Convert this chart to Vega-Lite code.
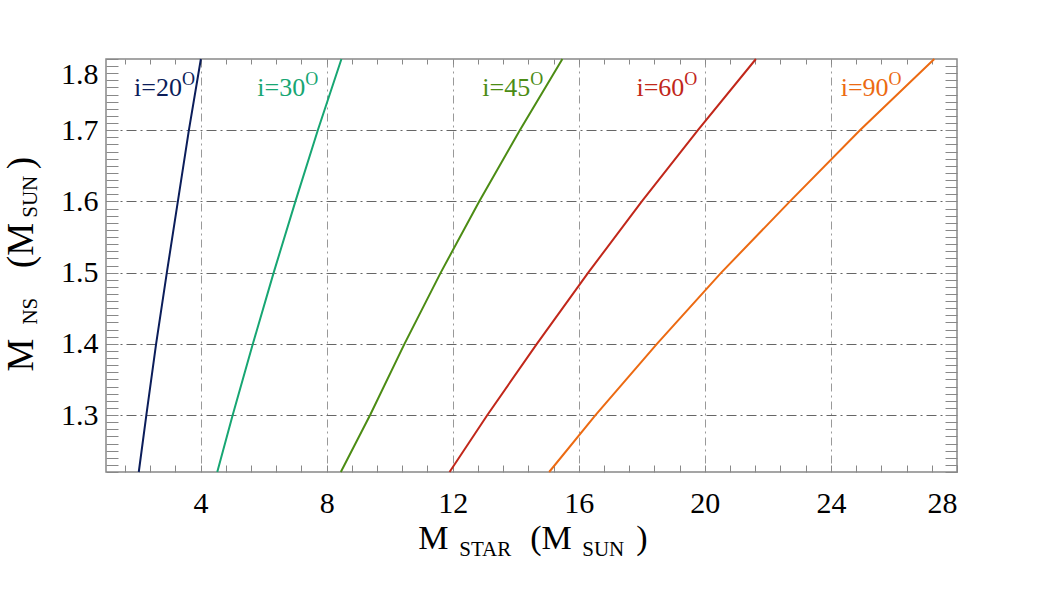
{
  "$schema": "https://vega.github.io/schema/vega-lite/v6.json",
  "width": 851,
  "height": 413,
  "autosize": "none",
  "padding": {"left": 106, "top": 59, "right": 106, "bottom": 119},
  "background": "white",
  "config": {
    "view": {"stroke": "#888888", "strokeWidth": 1.5},
    "font": "Liberation Serif",
    "axis": {"labelFont": "Liberation Serif", "titleFont": "Liberation Serif"},
    "text": {"font": "Liberation Serif"}
  },
  "datasets": {
    "curves": [
      {"inc": "i=20", "mstar": 2.04, "mns": 1.22},
      {"inc": "i=20", "mstar": 2.28, "mns": 1.3},
      {"inc": "i=20", "mstar": 2.59, "mns": 1.4},
      {"inc": "i=20", "mstar": 2.93, "mns": 1.5},
      {"inc": "i=20", "mstar": 3.28, "mns": 1.6},
      {"inc": "i=20", "mstar": 3.63, "mns": 1.7},
      {"inc": "i=20", "mstar": 4.01, "mns": 1.8},
      {"inc": "i=30", "mstar": 4.53, "mns": 1.22},
      {"inc": "i=30", "mstar": 5.02, "mns": 1.3},
      {"inc": "i=30", "mstar": 5.66, "mns": 1.4},
      {"inc": "i=30", "mstar": 6.32, "mns": 1.5},
      {"inc": "i=30", "mstar": 7.01, "mns": 1.6},
      {"inc": "i=30", "mstar": 7.72, "mns": 1.7},
      {"inc": "i=30", "mstar": 8.47, "mns": 1.8},
      {"inc": "i=45", "mstar": 8.45, "mns": 1.22},
      {"inc": "i=45", "mstar": 9.38, "mns": 1.3},
      {"inc": "i=45", "mstar": 10.47, "mns": 1.4},
      {"inc": "i=45", "mstar": 11.62, "mns": 1.5},
      {"inc": "i=45", "mstar": 12.84, "mns": 1.6},
      {"inc": "i=45", "mstar": 14.13, "mns": 1.7},
      {"inc": "i=45", "mstar": 15.48, "mns": 1.8},
      {"inc": "i=60", "mstar": 11.9, "mns": 1.22},
      {"inc": "i=60", "mstar": 13.1, "mns": 1.3},
      {"inc": "i=60", "mstar": 14.67, "mns": 1.4},
      {"inc": "i=60", "mstar": 16.3, "mns": 1.5},
      {"inc": "i=60", "mstar": 18.0, "mns": 1.6},
      {"inc": "i=60", "mstar": 19.78, "mns": 1.7},
      {"inc": "i=60", "mstar": 21.62, "mns": 1.8},
      {"inc": "i=90", "mstar": 15.06, "mns": 1.22},
      {"inc": "i=90", "mstar": 16.53, "mns": 1.3},
      {"inc": "i=90", "mstar": 18.48, "mns": 1.4},
      {"inc": "i=90", "mstar": 20.52, "mns": 1.5},
      {"inc": "i=90", "mstar": 22.7, "mns": 1.6},
      {"inc": "i=90", "mstar": 24.92, "mns": 1.7},
      {"inc": "i=90", "mstar": 27.28, "mns": 1.8}
    ],
    "labels": [
      {"inc": "i=20", "lx": 3.41, "ly": 1.748, "sy": 1.7635},
      {"inc": "i=30", "lx": 7.32, "ly": 1.748, "sy": 1.7635},
      {"inc": "i=45", "lx": 14.46, "ly": 1.748, "sy": 1.7635},
      {"inc": "i=60", "lx": 19.35, "ly": 1.748, "sy": 1.7635},
      {"inc": "i=90", "lx": 25.83, "ly": 1.748, "sy": 1.7635}
    ],
    "xtitleBig": [
      {"t": "M", "x": 10.905, "y": 1.1114},
      {"t": "(M", "x": 14.46, "y": 1.1114},
      {"t": ")", "x": 17.825, "y": 1.1114}
    ],
    "xtitleSmall": [
      {"t": "STAR", "x": 12.206, "y": 1.1016},
      {"t": "SUN", "x": 16.11, "y": 1.1016}
    ],
    "ytitleBig": [
      {"t": "M", "x": -1.317, "y": 1.361},
      {"t": "(M", "x": -1.317, "y": 1.5065},
      {"t": ")", "x": -1.317, "y": 1.645}
    ],
    "ytitleSmall": [
      {"t": "NS", "x": -1.19, "y": 1.427},
      {"t": "SUN", "x": -1.19, "y": 1.577}
    ]
  },
  "layer": [
    {
      "data": {"name": "curves"},
      "mark": {"type": "line", "strokeWidth": 2},
      "encoding": {
        "x": {
          "field": "mstar", "type": "quantitative",
          "scale": {"domain": [1, 28], "nice": false, "zero": false},
          "axis": {
            "orient": "bottom", "title": null, "domain": false,
            "values": [1.6,2.4,3.2,4,4.8,5.6,6.4,7.2,8,8.8,9.6,10.4,11.2,12,12.8,13.6,14.4,15.2,16,16.8,17.6,18.4,19.2,20,20.8,21.6,22.4,23.2,24,24.8,25.6,26.4,27.2,28],
            "tickSize": -7, "tickColor": "#888888", "tickWidth": 1,
            "labelExpr": "datum.value % 4 == 0 ? '' + datum.value : ''",
            "labelFontSize": 30, "labelColor": "black", "labelPadding": 23, "labelOverlap": false, "labelFont": "Liberation Serif",
            "grid": true, "gridColor": "#999999", "gridDash": [8, 4, 2, 4], "gridWidth": 1,
            "gridOpacity": {"condition": {"test": "datum.value % 4 == 0 && datum.value < 28", "value": 1}, "value": 0}
          }
        },
        "y": {
          "field": "mns", "type": "quantitative",
          "scale": {"domain": [1.22, 1.8], "nice": false, "zero": false},
          "axis": {
            "orient": "left", "title": null, "domain": false,
            "values": [1.22,1.23,1.24,1.25,1.26,1.27,1.28,1.29,1.3,1.31,1.32,1.33,1.34,1.35,1.36,1.37,1.38,1.39,1.4,1.41,1.42,1.43,1.44,1.45,1.46,1.47,1.48,1.49,1.5,1.51,1.52,1.53,1.54,1.55,1.56,1.57,1.58,1.59,1.6,1.61,1.62,1.63,1.64,1.65,1.66,1.67,1.68,1.69,1.7,1.71,1.72,1.73,1.74,1.75,1.76,1.77,1.78,1.79,1.8],
            "tickSize": -12, "tickColor": "#888888", "tickWidth": 1,
            "labelExpr": "abs(datum.value * 10 - round(datum.value * 10)) < 0.001 ? format(datum.value, '.1f') : ''",
            "labelFontSize": 30, "labelColor": "black", "labelPadding": 20, "labelOverlap": false, "labelFlush": true, "labelFont": "Liberation Serif",
            "grid": true, "gridColor": "#666666", "gridDash": [10, 4, 2, 4], "gridWidth": 1,
            "gridOpacity": {"condition": {"test": "abs(datum.value * 10 - round(datum.value * 10)) < 0.001 && datum.value < 1.79", "value": 1}, "value": 0}
          }
        },
        "color": {
          "field": "inc", "type": "nominal",
          "scale": {"domain": ["i=20", "i=30", "i=45", "i=60", "i=90"], "range": ["#0b1d5a", "#17a673", "#4c8c14", "#c1271a", "#ec6a12"]},
          "legend": null
        }
      }
    },
    {
      "data": {"name": "labels"},
      "mark": {"type": "text", "align": "right", "baseline": "alphabetic", "fontSize": 26, "font": "Liberation Serif"},
      "encoding": {
        "x": {
          "field": "lx", "type": "quantitative",
          "axis": {
            "orient": "top", "title": null, "domain": false, "labels": false, "grid": false,
            "values": [1.6,2.4,3.2,4,4.8,5.6,6.4,7.2,8,8.8,9.6,10.4,11.2,12,12.8,13.6,14.4,15.2,16,16.8,17.6,18.4,19.2,20,20.8,21.6,22.4,23.2,24,24.8,25.6,26.4,27.2],
            "tickSize": -5, "tickColor": "#888888", "tickWidth": 1
          }
        },
        "y": {
          "field": "ly", "type": "quantitative",
          "axis": {
            "orient": "right", "title": null, "domain": false, "labels": false, "grid": false,
            "values": [1.22,1.23,1.24,1.25,1.26,1.27,1.28,1.29,1.3,1.31,1.32,1.33,1.34,1.35,1.36,1.37,1.38,1.39,1.4,1.41,1.42,1.43,1.44,1.45,1.46,1.47,1.48,1.49,1.5,1.51,1.52,1.53,1.54,1.55,1.56,1.57,1.58,1.59,1.6,1.61,1.62,1.63,1.64,1.65,1.66,1.67,1.68,1.69,1.7,1.71,1.72,1.73,1.74,1.75,1.76,1.77,1.78,1.79],
            "tickSize": -12, "tickColor": "#888888", "tickWidth": 1
          }
        },
        "text": {"field": "inc"},
        "color": {"field": "inc", "type": "nominal", "legend": null}
      }
    },
    {
      "data": {"name": "labels"},
      "mark": {"type": "text", "align": "left", "baseline": "alphabetic", "fontSize": 18, "font": "Liberation Serif"},
      "encoding": {
        "x": {"field": "lx", "type": "quantitative", "axis": null},
        "y": {"field": "sy", "type": "quantitative", "axis": null},
        "text": {"value": "O"},
        "color": {"field": "inc", "type": "nominal", "legend": null}
      }
    },
    {
      "data": {"name": "xtitleBig"},
      "mark": {"type": "text", "align": "left", "baseline": "alphabetic", "fontSize": 34, "font": "Liberation Serif", "color": "black"},
      "encoding": {
        "x": {"field": "x", "type": "quantitative", "axis": null},
        "y": {"field": "y", "type": "quantitative", "axis": null},
        "text": {"field": "t"}
      }
    },
    {
      "data": {"name": "xtitleSmall"},
      "mark": {"type": "text", "align": "left", "baseline": "alphabetic", "fontSize": 21, "font": "Liberation Serif", "color": "black"},
      "encoding": {
        "x": {"field": "x", "type": "quantitative", "axis": null},
        "y": {"field": "y", "type": "quantitative", "axis": null},
        "text": {"field": "t"}
      }
    },
    {
      "data": {"name": "ytitleBig"},
      "mark": {"type": "text", "align": "left", "baseline": "alphabetic", "angle": 270, "fontSize": 37, "font": "Liberation Serif", "color": "black"},
      "encoding": {
        "x": {"field": "x", "type": "quantitative", "axis": null},
        "y": {"field": "y", "type": "quantitative", "axis": null},
        "text": {"field": "t"}
      }
    },
    {
      "data": {"name": "ytitleSmall"},
      "mark": {"type": "text", "align": "left", "baseline": "alphabetic", "angle": 270, "fontSize": 21, "font": "Liberation Serif", "color": "black"},
      "encoding": {
        "x": {"field": "x", "type": "quantitative", "axis": null},
        "y": {"field": "y", "type": "quantitative", "axis": null},
        "text": {"field": "t"}
      }
    }
  ],
  "resolve": {"axis": {"x": "independent", "y": "independent"}}
}
